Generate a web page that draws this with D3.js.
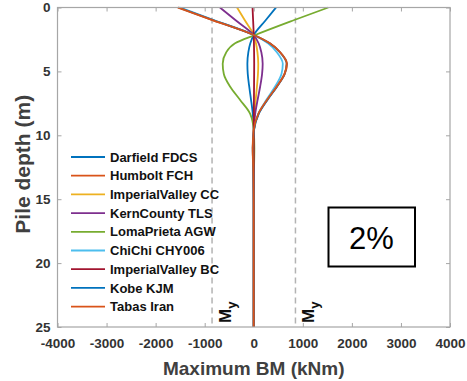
<!DOCTYPE html>
<html>
<head>
<meta charset="utf-8">
<script src="https://cdn.jsdelivr.net/npm/d3@7"></script>
<style>
  html, body { margin: 0; padding: 0; background: #fff; }
  svg { display: block; font-family: "Liberation Sans", Arial, sans-serif; }
</style>
</head>
<body>
<svg id="chart" width="467" height="381"></svg>
<script>
// Pile depth sample points (m)
const depths = [0, 1, 2.15, 2.8, 3.5, 4.4, 5.2, 6.2, 7.2, 8.3, 9.6, 11, 13, 16, 20, 25];

// Maximum bending moment along the pile (kNm), one array per record
const darfieldFDCS     = [455, 243, 0, -70, -110, -130, -122, -92, -56, -20, 0, 4, 0, 0, 0, 0];
const humboltFCH       = [-1550, -829, 0, 330, 540, 678, 632, 470, 280, 98, 0, -22, -8, 0, 0, 0];
const imperialValleyCC = [-340, -182, 0, 45, 75, 92, 86, 65, 40, 15, 0, -3, 0, 0, 0, 0];
const kernCountyTLS    = [-690, -369, 0, 100, 155, 182, 170, 130, 80, 30, 0, -5, 0, 0, 0, 0];
const lomaPrietaAGW    = [1520, 813, 30, -380, -560, -633, -610, -480, -285, -75, 0, 12, 4, 0, 0, 0];
const chiChiCHY006     = [-1495, -800, 0, 290, 470, 592, 565, 432, 262, 95, 4, -15, -5, 0, 0, 0];
const imperialValleyBC = [-25, -13, 0, 4, 7, 9, 8, 6, 4, 2, 0, 0, 0, 0, 0, 0];
const kobeKJM          = [-1525, -815, 0, 322, 532, 670, 628, 472, 285, 104, 5, -20, -8, 0, 0, 0];
const tabasIran        = [-1540, -823, 0, 326, 536, 672, 626, 466, 276, 96, 0, -20, -8, 0, 0, 0];

const seriesNames = ["Darfield FDCS", "Humbolt FCH", "ImperialValley CC", "KernCounty TLS",
  "LomaPrieta AGW", "ChiChi CHY006", "ImperialValley BC", "Kobe KJM", "Tabas Iran"];
const seriesValues = [darfieldFDCS, humboltFCH, imperialValleyCC, kernCountyTLS,
  lomaPrietaAGW, chiChiCHY006, imperialValleyBC, kobeKJM, tabasIran];
const seriesColors = ["#0072BD", "#D95319", "#EDB120", "#7E2F8E", "#77AC30",
  "#4DBEEE", "#A2142F", "#0072BD", "#D95319"];

const xTicks = [-4000, -3000, -2000, -1000, 0, 1000, 2000, 3000, 4000];
const yTicks = [0, 5, 10, 15, 20, 25];
const yieldMoment = 850;      // M_y (kNm)
const driftLabel = "2%";

const svg = d3.select("#chart");
const plot = { left: 57.5, right: 450, top: 7.5, bottom: 327 };

const x = d3.scaleLinear().domain([-4000, 4000]).range([plot.left, plot.right]);
const y = d3.scaleLinear().domain([0, 25]).range([plot.top, plot.bottom]);

const axisColor = "#a6a6a6";
const textColor = "#333";
const plainNumber = d => String(d);

// Axes with inward ticks on all four sides
function styleAxis(g) {
  g.select(".domain").remove();
  g.selectAll(".tick line").attr("stroke", axisColor);
  g.selectAll(".tick text")
    .attr("fill", textColor)
    .attr("font-weight", "bold")
    .attr("font-size", "13.5px")
    .attr("font-family", "Liberation Sans, Arial, sans-serif");
}

svg.append("g")
  .attr("transform", `translate(0,${plot.bottom})`)
  .call(d3.axisBottom(x).tickValues(xTicks).tickSize(-4).tickPadding(11).tickFormat(plainNumber))
  .call(styleAxis);
svg.append("g")
  .attr("transform", `translate(0,${plot.top})`)
  .call(d3.axisTop(x).tickValues(xTicks).tickSize(-4).tickFormat(""))
  .call(styleAxis);
svg.append("g")
  .attr("transform", `translate(${plot.left},0)`)
  .call(d3.axisLeft(y).tickValues(yTicks).tickSize(-4).tickPadding(7).tickFormat(plainNumber))
  .call(styleAxis);
svg.append("g")
  .attr("transform", `translate(${plot.right},0)`)
  .call(d3.axisRight(y).tickValues(yTicks).tickSize(-4).tickFormat(""))
  .call(styleAxis);

// Yield moment reference lines
[-yieldMoment, yieldMoment].forEach(v => {
  svg.append("line")
    .attr("x1", x(v)).attr("x2", x(v))
    .attr("y1", y(0)).attr("y2", y(25))
    .attr("stroke", "#b3b3b3")
    .attr("stroke-width", 1.5)
    .attr("stroke-dasharray", "6,4");
});

// Bending moment profiles
const line = d3.line()
  .x(d => x(d[1]))
  .y(d => y(d[0]))
  .curve(d3.curveMonotoneY);

seriesValues.forEach((vals, i) => {
  svg.append("path")
    .datum(depths.map((d, k) => [d, vals[k]]))
    .attr("d", line)
    .attr("fill", "none")
    .attr("stroke", seriesColors[i])
    .attr("stroke-width", 1.8);
});

// Plot frame
svg.append("rect")
  .attr("x", plot.left).attr("y", plot.top)
  .attr("width", plot.right - plot.left)
  .attr("height", plot.bottom - plot.top)
  .attr("fill", "none")
  .attr("stroke", axisColor)
  .attr("stroke-width", 1.2);

// M_y labels beside each reference line
[-yieldMoment, yieldMoment].forEach(v => {
  const t = svg.append("text")
    .attr("transform", `translate(${x(v) + 19},${y(25) - 4}) rotate(-90)`)
    .attr("font-weight", "bold")
    .attr("font-size", "17px")
    .attr("fill", "#111");
  t.append("tspan").text("M");
  t.append("tspan").attr("font-size", "13px").attr("dy", 5).text("y");
});

// Legend
const legend = svg.append("g").attr("transform", "translate(71,157)");
seriesNames.forEach((name, i) => {
  const g = legend.append("g").attr("transform", `translate(0,${i * 18.7})`);
  g.append("line")
    .attr("x1", 0).attr("x2", 34).attr("y1", 0).attr("y2", 0)
    .attr("stroke", seriesColors[i]).attr("stroke-width", 1.8);
  g.append("text")
    .attr("x", 39).attr("y", 0).attr("dy", "0.36em")
    .attr("font-weight", "bold")
    .attr("font-size", "13px")
    .attr("fill", "#111")
    .text(name);
});

// Drift level annotation box
svg.append("rect")
  .attr("x", 328.5).attr("y", 207.5)
  .attr("width", 86.5).attr("height", 59)
  .attr("fill", "#fff")
  .attr("stroke", "#000")
  .attr("stroke-width", 2);
svg.append("text")
  .attr("x", 371.5).attr("y", 237.5)
  .attr("text-anchor", "middle")
  .attr("dy", "0.36em")
  .attr("font-size", "31px")
  .attr("fill", "#000")
  .text(driftLabel);

// Axis titles
svg.append("text")
  .attr("x", (plot.left + plot.right) / 2)
  .attr("y", 368)
  .attr("dy", "0.36em")
  .attr("text-anchor", "middle")
  .attr("font-weight", "bold")
  .attr("font-size", "19px")
  .attr("fill", "#404040")
  .text("Maximum BM (kNm)");
svg.append("text")
  .attr("transform", `translate(22,${(plot.top + plot.bottom) / 2 - 3}) rotate(-90)`)
  .attr("dy", "0.36em")
  .attr("text-anchor", "middle")
  .attr("font-weight", "bold")
  .attr("font-size", "21px")
  .attr("fill", "#404040")
  .text("Pile depth (m)");
</script>
</body>
</html>
